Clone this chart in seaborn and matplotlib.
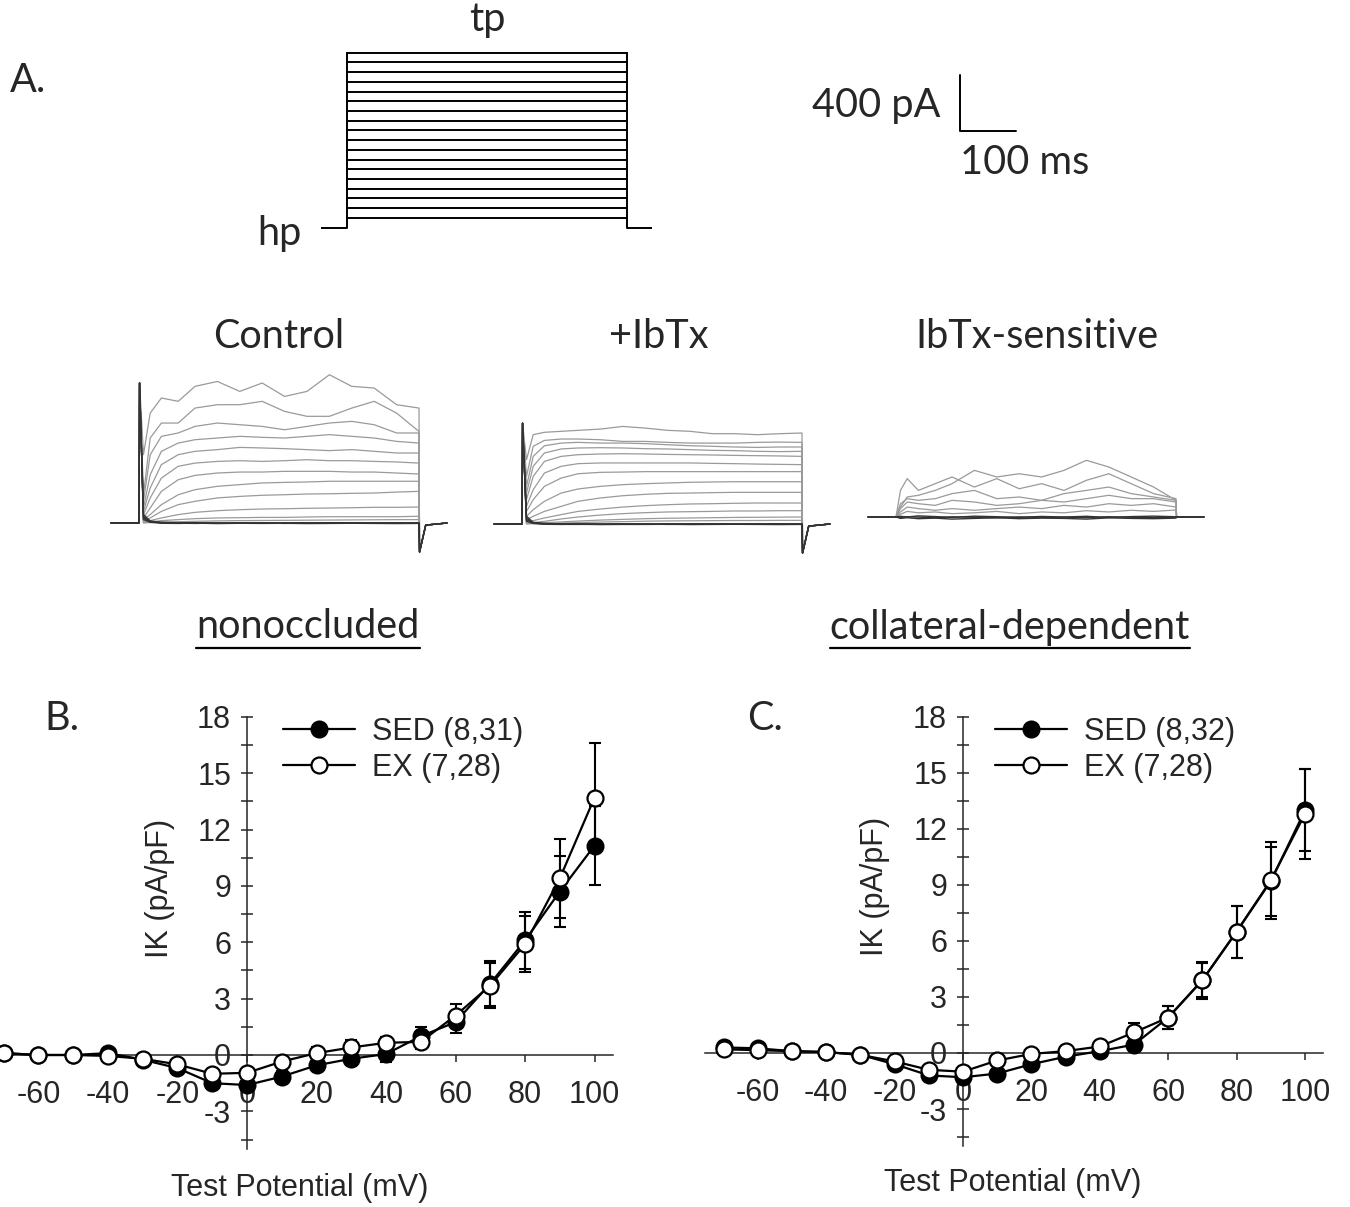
import matplotlib
matplotlib.use("Agg")
import matplotlib.pyplot as plt
from matplotlib.lines import Line2D
from matplotlib.ticker import MultipleLocator
import pandas as pd
import seaborn as sns

# ---------------- data ----------------
# voltage protocol (mV)
test_mV = [-70, -60, -50, -40, -30, -20, -10, 0, 10, 20, 30, 40, 50, 60, 70, 80, 90, 100]
hold_mV = -80
step_ms = 500

# current traces, sampled at these times after step onset (ms), values in pA
grid_ms = [8, 20, 40, 70, 100, 140, 180, 220, 260, 300, 340, 380, 420, 460, 500]

ctrl_traces = [
    [488, 785, 893, 869, 976, 1011, 940, 1000, 904, 940, 1059, 976, 964, 845, 821],
    [202, 607, 714, 714, 821, 845, 845, 869, 797, 762, 762, 821, 869, 785, 654],
    [155, 488, 619, 643, 690, 714, 702, 690, 666, 690, 714, 726, 702, 643, 643],
    [107, 345, 512, 571, 595, 607, 619, 612, 607, 619, 631, 619, 607, 583, 571],
    [83, 250, 417, 488, 512, 524, 540, 536, 531, 524, 517, 524, 512, 500, 500],
    [60, 179, 321, 405, 428, 440, 445, 440, 445, 452, 445, 445, 440, 436, 428],
    [36, 107, 226, 309, 340, 357, 364, 364, 369, 369, 369, 364, 364, 357, 350],
    [24, 60, 131, 202, 238, 262, 274, 286, 290, 293, 298, 298, 298, 298, 298],
    [12, 36, 83, 131, 155, 179, 190, 198, 202, 207, 209, 212, 214, 221, 226],
    [5, 17, 36, 60, 76, 88, 95, 100, 102, 105, 107, 109, 112, 112, 114],
    [2, 7, 17, 24, 31, 36, 38, 40, 40, 43, 45, 45, 45, 45, 48],
    [1, 3, 6, 9, 12, 15, 17, 18, 19, 20, 21, 22, 23, 24, 24],
]
ctrl_base = [
    [60, 15, 5, 2, 0, -2, 1, 0, -1, 2, 0, -2, 1, 0, 1],
    [45, 10, 2, -1, -3, 0, -2, 1, -3, 0, -1, 1, -2, -1, 0],
    [35, 8, 3, 1, 2, -1, 0, -2, 1, -1, 2, 0, -1, 1, -2],
    [25, 5, -2, -3, -1, -4, -2, -3, -2, -4, -3, -2, -3, -4, -3],
]
ctrl_spike, ctrl_tail = 1000, -207

ibtx_traces = [
    [459, 638, 655, 662, 669, 678, 697, 685, 669, 662, 645, 645, 638, 645, 650],
    [340, 555, 597, 607, 607, 602, 590, 590, 583, 578, 578, 578, 583, 585, 583],
    [269, 483, 559, 578, 583, 578, 578, 574, 566, 559, 555, 550, 547, 550, 550],
    [221, 412, 507, 536, 543, 545, 543, 538, 536, 531, 526, 524, 519, 517, 519],
    [174, 340, 447, 483, 495, 500, 502, 500, 497, 495, 493, 490, 488, 486, 483],
    [126, 245, 364, 412, 431, 436, 436, 436, 436, 436, 433, 431, 428, 426, 424],
    [90, 174, 269, 328, 359, 369, 371, 374, 374, 374, 374, 374, 374, 374, 374],
    [55, 102, 162, 221, 250, 269, 281, 288, 293, 298, 300, 302, 302, 302, 302],
    [31, 55, 90, 126, 162, 186, 202, 212, 219, 221, 224, 226, 226, 226, 226],
    [12, 24, 43, 67, 90, 107, 121, 131, 138, 143, 145, 148, 150, 150, 150],
    [5, 10, 19, 36, 50, 64, 74, 81, 86, 88, 90, 93, 93, 95, 95],
    [2, 5, 9, 15, 21, 28, 33, 38, 41, 43, 45, 47, 48, 49, 50],
    [1, 2, 4, 7, 10, 14, 17, 20, 22, 23, 24, 25, 25, 26, 26],
]
ibtx_base = [
    [55, 12, 4, 1, 0, -2, 1, 0, -1, 1, 0, -2, 1, 0, 1],
    [40, 9, 1, -2, -3, -1, -2, 0, -3, -1, -1, 0, -2, -1, 0],
    [30, 6, 2, 1, 1, -1, 0, -2, 1, -1, 1, 0, -1, 1, -2],
    [20, 4, -2, -3, -2, -4, -3, -3, -2, -4, -3, -2, -3, -4, -3],
]
ibtx_spike, ibtx_tail = 720, -207

sens_traces = [
    [71, 143, 155, 190, 238, 333, 286, 309, 286, 333, 405, 357, 286, 214, 119],
    [190, 274, 190, 238, 286, 214, 274, 202, 238, 190, 262, 309, 238, 167, 131],
    [95, 131, 119, 131, 167, 190, 131, 143, 119, 167, 190, 214, 167, 143, 119],
    [60, 107, 95, 83, 119, 107, 83, 95, 119, 107, 131, 155, 131, 131, 107],
    [36, 71, 60, 48, 60, 48, 60, 71, 60, 83, 71, 95, 83, 95, 71],
    [20, 40, 30, 36, 24, 30, 40, 24, 36, 30, 45, 36, 48, 40, 50],
]
sens_base = [
    [-10, -5, -12, -8, -15, -10, -5, -12, -8, -10, -15, -6, -10, -12, -8],
    [5, 0, 8, 3, -3, 6, 2, -2, 4, 0, 5, -4, 3, 6, 2],
    [-3, 2, -1, -5, 1, -2, -6, 0, -3, -1, -4, 2, -2, -5, -1],
]

# I-V relations (pA/pF)
volts = [-70, -60, -50, -40, -30, -20, -10, 0, 10, 20, 30, 40, 50, 60, 70, 80, 90, 100]
b_sed = [0.1, 0.0, 0.0, 0.1, -0.25, -0.7, -1.5, -1.6, -1.15, -0.55, -0.2, 0.05, 1.0, 1.75, 3.8, 6.1, 8.7, 11.15]
b_sed_err = [0.1, 0.1, 0.1, 0.15, 0.15, 0.2, 0.3, 0.3, 0.3, 0.3, 0.3, 0.4, 0.5, 0.6, 1.2, 1.5, 1.9, 2.1]
b_ex = [0.1, 0.0, 0.0, -0.05, -0.2, -0.5, -1.0, -0.95, -0.35, 0.1, 0.4, 0.65, 0.7, 2.1, 3.7, 5.9, 9.4, 13.7]
b_ex_err = [0.1, 0.1, 0.1, 0.1, 0.15, 0.2, 0.25, 0.25, 0.25, 0.3, 0.4, 0.3, 0.4, 0.6, 1.2, 1.5, 2.1, 2.9]

c_sed = [0.3, 0.25, 0.1, 0.05, -0.1, -0.6, -1.2, -1.3, -1.1, -0.6, -0.2, 0.1, 0.45, 1.9, 3.9, 6.5, 9.2, 13.0]
c_sed_err = [0.1, 0.1, 0.1, 0.1, 0.1, 0.15, 0.2, 0.2, 0.2, 0.2, 0.25, 0.3, 0.3, 0.6, 1.0, 1.4, 1.85, 2.2]
c_ex = [0.2, 0.15, 0.1, 0.05, -0.1, -0.45, -0.9, -1.0, -0.4, -0.05, 0.1, 0.35, 1.1, 1.9, 3.9, 6.5, 9.25, 12.8]
c_ex_err = [0.1, 0.1, 0.1, 0.1, 0.1, 0.15, 0.2, 0.2, 0.2, 0.2, 0.3, 0.3, 0.5, 0.6, 0.9, 1.4, 2.05, 2.4]

# ---------------- layout helpers ----------------
W, H = 1350, 1207
sns.set_style("ticks")
plt.rcParams["font.family"] = ["Liberation Sans", "DejaVu Sans"]
plt.rcParams["axes.unicode_minus"] = False
LABEL_FONT = ["Lato", "DejaVu Sans"]
FS = 22
LFS = 28.5

fig = plt.figure(figsize=(W / 100, H / 100), dpi=100)


def px_axes(x0, x1, y_top, y_bot):
    """axes placed by image pixel box"""
    ax = fig.add_axes([x0 / W, 1 - y_bot / H, (x1 - x0) / W, (y_bot - y_top) / H])
    ax.set_facecolor("none")
    return ax


def ftext(x, y, s, **kw):
    return fig.text(x / W, 1 - y / H, s, **kw)


PX_MS = 0.56   # 100 ms = 56 px
PX_PA = 0.14   # 400 pA = 56 px


def scaled_axes(x0, y0, xlim, ylim, px_x, px_y):
    ax = px_axes(x0 + xlim[0] * px_x, x0 + xlim[1] * px_x,
                 y0 - ylim[1] * px_y, y0 - ylim[0] * px_y)
    ax.set_xlim(xlim)
    ax.set_ylim(ylim)
    ax.axis("off")
    return ax


def trace_frame(rows, spike=None, tail=None):
    recs = []
    for i, row in enumerate(rows):
        if spike is not None:
            t = [-50, 0, 1] + grid_ms + [501, 512, 550]
            v = [0, 0, spike] + row + [tail, -15, 0]
        else:
            t = [-50, 0] + grid_ms + [501, 550]
            v = [0, 0] + row + [0, 0]
        for tt, vv in zip(t, v):
            recs.append({"t": tt, "I": vv, "trace": i})
    return pd.DataFrame(recs)


def draw_traces(ax, rows, base, spike=None, tail=None):
    sns.lineplot(data=trace_frame(rows, spike, tail), x="t", y="I", units="trace",
                 estimator=None, color="#9a9a9a", lw=0.9, ax=ax, legend=False)
    sns.lineplot(data=trace_frame(base, spike, tail), x="t", y="I", units="trace",
                 estimator=None, color="#333333", lw=1.0, ax=ax, legend=False)
    ax.axis("off")


# ---------------- A: protocol ----------------
ax_p = scaled_axes(346.7, 52.7 + 100 * 0.972, (-46, 546), (-85, 106), PX_MS, 0.972)
for v in test_mV:
    ax_p.plot([0, step_ms], [v, v], color="black", lw=1.4)
ax_p.plot([-46, 0, 0], [hold_mV, hold_mV, max(test_mV)], color="black", lw=1.4)
ax_p.plot([step_ms, step_ms, 546], [max(test_mV), hold_mV, hold_mV], color="black", lw=1.4)

ftext(10, 80, "A.", fontsize=LFS, family=LABEL_FONT, va="center", ha="left")
ftext(487, 20, "tp", fontsize=LFS, family=LABEL_FONT, va="center", ha="center")
ftext(279, 233, "hp", fontsize=LFS, family=LABEL_FONT, va="center", ha="center")

# scale bar
ax_s = scaled_axes(960, 131, (-10, 110), (-40, 440), PX_MS, PX_PA)
ax_s.plot([0, 0, 100], [400, 0, 0], color="black", lw=1.4)
ftext(941, 105, "400 pA", fontsize=LFS, family=LABEL_FONT, va="center", ha="right")
ftext(960, 162, "100 ms", fontsize=LFS, family=LABEL_FONT, va="center", ha="left")

# current traces
ax_c = scaled_axes(139, 523, (-55, 560), (-260, 1100), PX_MS, PX_PA)
draw_traces(ax_c, ctrl_traces, ctrl_base, ctrl_spike, ctrl_tail)
ax_i = scaled_axes(522, 524, (-55, 560), (-260, 1100), PX_MS, PX_PA)
draw_traces(ax_i, ibtx_traces, ibtx_base, ibtx_spike, ibtx_tail)
ax_x = scaled_axes(896, 517, (-55, 560), (-260, 600), PX_MS, PX_PA)
draw_traces(ax_x, sens_traces, sens_base)

ftext(279, 337, "Control", fontsize=LFS, family=LABEL_FONT, va="center", ha="center")
ftext(659, 337, "+IbTx", fontsize=LFS, family=LABEL_FONT, va="center", ha="center")
ftext(1037, 337, "IbTx-sensitive", fontsize=LFS, family=LABEL_FONT, va="center", ha="center")

heads = [ftext(308, 627, "nonoccluded", fontsize=LFS, family=LABEL_FONT, va="center", ha="center"),
         ftext(1010, 627, "collateral-dependent", fontsize=LFS, family=LABEL_FONT, va="center", ha="center")]


# ---------------- B and C: I-V ----------------
def iv_panel(ax, sed, sed_err, ex, ex_err, sed_lab, ex_lab):
    ax.errorbar(volts, sed, yerr=sed_err, fmt="none", ecolor="black",
                elinewidth=1.5, capsize=4.5, capthick=1.5, zorder=2)
    sns.lineplot(x=volts, y=sed, color="black", lw=1.6, marker="o", markersize=11.5,
                 markerfacecolor="black", markeredgecolor="black", markeredgewidth=1.5,
                 label=sed_lab, ax=ax, zorder=3)
    ax.errorbar(volts, ex, yerr=ex_err, fmt="none", ecolor="black",
                elinewidth=1.5, capsize=4.5, capthick=1.5, zorder=4)
    sns.lineplot(x=volts, y=ex, color="black", lw=1.6, marker="o", markersize=11.5,
                 markerfacecolor="white", markeredgecolor="black", markeredgewidth=1.6,
                 label=ex_lab, ax=ax, zorder=5)

    ax.spines[["top", "right"]].set_visible(False)
    ax.spines["left"].set_position(("data", 0))
    ax.spines["bottom"].set_position(("data", 0))
    for s in ("left", "bottom"):
        ax.spines[s].set_linewidth(1.1)
    ax.set_ylim(-5, 18)
    ax.set_yticks([-3, 0, 3, 6, 9, 12, 15, 18])
    ax.yaxis.set_minor_locator(MultipleLocator(1.5))
    ax.set_xticks([-60, -40, -20, 0, 20, 40, 60, 80, 100])
    ax.tick_params(axis="y", which="both", direction="inout", length=9, width=1.1,
                   pad=7, labelsize=FS)
    ax.tick_params(axis="x", which="major", direction="out", length=5, width=1.1,
                   pad=13, labelsize=FS)
    ax.set_xlabel("")
    ax.set_ylabel("")
    lines = [l for l in ax.get_lines() if l.get_label() in (sed_lab, ex_lab)]
    return lines


def iv_axes(x_zero, px_mv, y_zero, px_unit, xlim):
    return px_axes(x_zero + xlim[0] * px_mv, x_zero + xlim[1] * px_mv,
                   y_zero - 18 * px_unit, y_zero + 5 * px_unit)


ax_b = iv_axes(247, 3.475, 1055, 18.78, (-71.2, 105.2))
ax_b.set_xlim(-71.2, 105.2)
hb = iv_panel(ax_b, b_sed, b_sed_err, b_ex, b_ex_err, "SED (8,31)", "EX (7,28)")
ax_b.legend(handles=hb, loc="upper left", bbox_to_anchor=(283 / W, 1 - 717 / H),
            bbox_transform=fig.transFigure, frameon=False, fontsize=FS, borderpad=0,
            borderaxespad=0, handlelength=2.35, handletextpad=0.55, labelspacing=0.2)

ax_cc = iv_axes(963, 3.42, 1053, 18.67, (-75.4, 105.2))
ax_cc.set_xlim(-75.4, 105.2)
hc = iv_panel(ax_cc, c_sed, c_sed_err, c_ex, c_ex_err, "SED (8,32)", "EX (7,28)")
ax_cc.legend(handles=hc, loc="upper left", bbox_to_anchor=(995 / W, 1 - 717 / H),
             bbox_transform=fig.transFigure, frameon=False, fontsize=FS, borderpad=0,
             borderaxespad=0, handlelength=2.35, handletextpad=0.55, labelspacing=0.2)

ftext(62, 718, "B.", fontsize=LFS, family=LABEL_FONT, va="center", ha="center")
ftext(765, 718, "C.", fontsize=LFS, family=LABEL_FONT, va="center", ha="center")
ftext(160, 888, "IK (pA/pF)", fontsize=FS, rotation=90, va="center", ha="center")
ftext(875, 886, "IK (pA/pF)", fontsize=FS, rotation=90, va="center", ha="center")
ftext(300, 1188, "Test Potential (mV)", fontsize=FS, va="center", ha="center")
ftext(1013, 1183, "Test Potential (mV)", fontsize=FS, va="center", ha="center")

# underline the two headings
fig.canvas.draw()
inv = fig.transFigure.inverted()
for t in heads:
    bb = t.get_window_extent()
    (x0, y0), (x1, _) = inv.transform([(bb.x0, bb.y0 - 2), (bb.x1, bb.y0)])
    fig.add_artist(Line2D([x0, x1], [y0, y0], color="black", lw=1.6,
                          transform=fig.transFigure))

fig.savefig("out.png", dpi=100, facecolor="white")
